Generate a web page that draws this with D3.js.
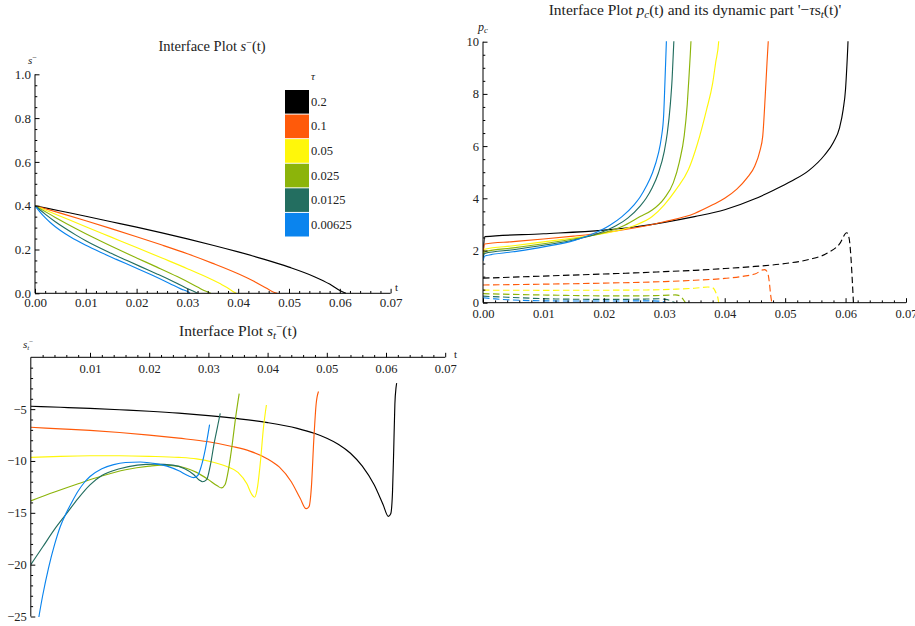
<!DOCTYPE html>
<html><head><meta charset="utf-8">
<script src="https://cdn.jsdelivr.net/npm/d3@7"></script>
<style>
body{margin:0;background:#fff}
svg text{font-family:"Liberation Serif","Times New Roman",serif;fill:#222}
</style></head><body>
<svg id="chart" width="915" height="626"></svg>
<script>
// relaxation parameter tau for each run, and the colour used for it
const tauLabels = ["0.2", "0.1", "0.05", "0.025", "0.0125", "0.00625"];
const tauColors = ["#000000", "#FF5A0A", "#FFF70A", "#8CB40A", "#236E60", "#0A84EE"];

// interface position s^-(t)  [t, s]
const s_tau0200 = [[0,.4],[.005,.376],[.01,.352],[.015,.327],[.02,.302],[.025,.276],[.03,.2485],[.035,.2197],[.04,.1891],[.045,.1562],[.05,.1195],[.055,.076],[.058,.042],[.06,.013],[.0612,0]];
const s_tau0100 = [[0,.4],[.005,.366],[.01,.3311],[.015,.2953],[.02,.2584],[.025,.2202],[.03,.1803],[.035,.1366],[.04,.089],[.043,.056],[.0455,.024],[.047,.005],[.0477,0]];
const s_tau0050 = [[0,.4],[.005,.352],[.01,.304],[.015,.2565],[.02,.209],[.025,.161],[.03,.1125],[.033,.0822],[.035,.0605],[.0365,.0431],[.0378,.0265],[.0388,.011],[.0396,0]];
const s_tau0025 = [[0,.4],[.004,.3466],[.008,.2962],[.012,.2487],[.016,.2041],[.02,.1614],[.024,.1196],[.028,.0763],[.0315,.0347],[.0322,.026],[.0334,.0112],[.0346,0]];
const s_tau0013 = [[0,.4],[.002,.3617],[.004,.3268],[.006,.2955],[.008,.2668],[.01,.2399],[.015,.1825],[.018,.1509],[.021,.1195],[.024,.0885],[.026,.0673],[.029,.0333],[.0303,.0181],[.031,.0115],[.032,0]];
const s_tau0006 = [[0,.4],[.001,.371],[.002,.3455],[.003,.3234],[.004,.304],[.005,.2867],[.007,.2569],[.01,.2194],[.013,.1862],[.016,.155],[.02,.1144],[.023,.0832],[.0265,.045],[.0288,.019],[.0302,.006],[.0305,0]];

// interface velocity s_t^-(t)  [t, s_t]
const st_tau0200 = [[0,-4.72],[.005,-4.82],[.01,-4.93],[.015,-5.06],[.02,-5.2],[.025,-5.38],[.03,-5.62],[.035,-5.92],[.04,-6.3],[.045,-6.85],[.048,-7.35],[.05,-7.8],[.052,-8.4],[.054,-9.25],[.056,-10.5],[.058,-12.3],[.0595,-14.2],[.0604,-15.35],[.0608,-15.1],[.0611,-13],[.0613,-9],[.0615,-4.5],[.0617,-2.9],[.0618,-2.5]];
const st_tau0100 = [[0,-6.75],[.005,-6.9],[.01,-7.05],[.015,-7.25],[.02,-7.5],[.025,-7.8],[.03,-8.15],[.034,-8.6],[.037,-9.05],[.04,-9.8],[.042,-10.6],[.044,-12],[.0455,-13.6],[.0465,-14.6],[.047,-14.4],[.0474,-12.5],[.0478,-8],[.0482,-4.5],[.0486,-3.3]];
const st_tau0050 = [[0,-9.65],[.005,-9.55],[.01,-9.5],[.015,-9.5],[.02,-9.55],[.025,-9.65],[.028,-9.8],[.031,-10.15],[.033,-10.5],[.035,-11.1],[.0365,-12.2],[.0373,-13.2],[.0378,-13.5],[.0383,-12.5],[.0388,-10],[.0393,-6.8],[.0398,-4.6]];
const st_tau0025 = [[0,-13.85],[.004,-13.0],[.008,-12.2],[.012,-11.45],[.016,-10.85],[.02,-10.5],[.022,-10.4],[.024,-10.45],[.026,-10.65],[.028,-11.1],[.03,-11.8],[.0315,-12.4],[.0322,-12.6],[.0328,-12.3],[.0334,-10.8],[.034,-8.5],[.0346,-5.8],[.0352,-3.5]];
const st_tau0013 = [[0,-20],[.002,-18.3],[.004,-16.6],[.006,-15.1],[.008,-13.6],[.01,-12.3],[.012,-11.4],[.015,-10.75],[.018,-10.4],[.021,-10.3],[.024,-10.4],[.026,-10.75],[.0275,-11.3],[.0285,-11.85],[.029,-12],[.0297,-11.8],[.0303,-10.5],[.031,-8.2],[.0315,-6.8],[.032,-5.4]];
const st_tau0006 = [[0,-30],[.001,-26.3],[.002,-23],[.003,-20.3],[.004,-18.1],[.005,-16.3],[.006,-15],[.007,-13.9],[.008,-12.9],[.009,-12.1],[.01,-11.5],[.012,-10.75],[.014,-10.35],[.016,-10.15],[.0185,-10.1],[.021,-10.25],[.023,-10.5],[.025,-10.95],[.0265,-11.4],[.0275,-11.6],[.0282,-11.4],[.0288,-10.5],[.0295,-8.8],[.0302,-6.5]];

// capillary pressure p_c(t)  [t, p_c]
const pc_tau0200 = [[0,1.7],[.0003,2.53],[.01,2.64],[.02,2.78],[.025,2.9],[.03,3.08],[.035,3.3],[.04,3.56],[.045,3.98],[.048,4.3],[.051,4.65],[.054,5.08],[.0565,5.65],[.058,6.15],[.059,6.7],[.0596,7.4],[.06,8.2],[.0602,9.0],[.0604,10],[.0606,11.5]];
const pc_tau0100 = [[0,1.95],[.0003,2.25],[.005,2.34],[.01,2.44],[.015,2.55],[.02,2.68],[.025,2.86],[.03,3.1],[.035,3.42],[.038,3.75],[.04,4.0],[.042,4.35],[.0437,4.78],[.045,5.25],[.0458,5.8],[.0463,6.4],[.0467,7.9],[.047,9.2],[.0472,10],[.0475,11.5]];
const pc_tau0050 = [[0,1.9],[.0003,2.05],[.005,2.18],[.01,2.33],[.015,2.48],[.02,2.65],[.025,2.95],[.028,3.3],[.03,3.75],[.032,4.35],[.034,5.1],[.0355,6.1],[.037,7.4],[.038,8.4],[.0385,9.2],[.039,10],[.0392,10.8]];
const pc_tau0025 = [[0,1.8],[.0003,1.95],[.005,2.1],[.01,2.26],[.015,2.44],[.02,2.68],[.023,2.92],[.026,3.3],[.028,3.55],[.03,4.0],[.0315,4.6],[.0325,5.4],[.0333,6.4],[.0338,7.6],[.0341,8.7],[.0343,9.5],[.0345,10.4]];
const pc_tau0013 = [[0,1.75],[.0003,1.89],[.005,2.03],[.01,2.2],[.015,2.4],[.019,2.65],[.022,2.95],[.024,3.25],[.026,3.7],[.027,4.0],[.028,4.4],[.029,4.95],[.03,5.8],[.0305,6.5],[.031,7.6],[.0313,8.6],[.0315,9.6],[.0317,10.6]];
const pc_tau0006 = [[0,1.6],[.0003,1.79],[.005,1.95],[.01,2.14],[.015,2.38],[.018,2.62],[.021,2.97],[.023,3.3],[.025,3.75],[.026,4.05],[.027,4.45],[.028,4.95],[.029,5.7],[.0295,6.3],[.0299,7.2],[.0301,8.4],[.0303,9.7],[.0305,11]];

// dynamic part -tau*s_t(t)  [t, value]
const dyn_tau0200 = [[0,.94],[.01,1.02],[.02,1.1],[.025,1.14],[.03,1.19],[.035,1.24],[.04,1.31],[.045,1.39],[.05,1.5],[.054,1.66],[.057,1.9],[.059,2.25],[.0602,2.68],[.0606,2.45],[.0609,1.7],[.0611,.9],[.0613,0]];
const dyn_tau0100 = [[0,.68],[.01,.71],[.02,.75],[.03,.81],[.035,.86],[.04,.93],[.043,1.01],[.045,1.1],[.0466,1.27],[.0471,1.15],[.0474,.75],[.0476,.3],[.0478,0]];
const dyn_tau0050 = [[0,.48],[.01,.475],[.02,.478],[.028,.49],[.032,.52],[.035,.555],[.0372,.6],[.0378,.59],[.0383,.5],[.0386,.35],[.0389,.15],[.039,0]];
const dyn_tau0025 = [[0,.345],[.005,.318],[.01,.295],[.015,.275],[.02,.263],[.025,.262],[.028,.27],[.031,.29],[.0318,.3],[.0325,.27],[.033,.17],[.0333,.07],[.0335,0]];
const dyn_tau0013 = [[0,.25],[.004,.21],[.008,.17],[.012,.143],[.018,.13],[.024,.13],[.027,.14],[.029,.15],[.0302,.13],[.031,.08],[.0315,.03],[.0318,0]];
const dyn_tau0006 = [[0,.19],[.002,.145],[.004,.113],[.006,.094],[.01,.072],[.015,.064],[.02,.064],[.025,.068],[.0277,.072],[.029,.062],[.0298,.04],[.0302,0]];

// axis tick labels
const tTicks = [0, 0.01, 0.02, 0.03, 0.04, 0.05, 0.06, 0.07];
const tTicksNoZero = [0.01, 0.02, 0.03, 0.04, 0.05, 0.06, 0.07];
const sTicks = [0, 0.2, 0.4, 0.6, 0.8, 1.0];
const pcTicks = [0, 2, 4, 6, 8, 10];
const stTicks = [-5, -10, -15, -20, -25];

const sSeries = [s_tau0200, s_tau0100, s_tau0050, s_tau0025, s_tau0013, s_tau0006];
const stSeries = [st_tau0200, st_tau0100, st_tau0050, st_tau0025, st_tau0013, st_tau0006];
const pcSeries = [pc_tau0200, pc_tau0100, pc_tau0050, pc_tau0025, pc_tau0013, pc_tau0006];
const dynSeries = [dyn_tau0200, dyn_tau0100, dyn_tau0050, dyn_tau0025, dyn_tau0013, dyn_tau0006];

const SERIF = "Liberation Serif, Times New Roman, serif";
const svg = d3.select("#chart");
const fmt2 = d3.format(".2f"), fmt1 = d3.format(".1f");
const fmtMinus = d => d3.format("d")(d).replace("-", "\u2212");
const tMinors = d3.range(0.002, 0.0705, 0.002).filter(v => Math.abs(v * 100 - Math.round(v * 100)) > 1e-6);

function clip(id, x, y) {
  const [x0, x1] = x.range(), [y0, y1] = y.range();
  svg.append("clipPath").attr("id", id).append("rect")
    .attr("x", Math.min(x0, x1)).attr("y", Math.min(y0, y1) - 0.5)
    .attr("width", Math.abs(x1 - x0) + 2).attr("height", Math.abs(y1 - y0) + 1);
}

function styleAxis(g, fs) {
  g.attr("font-family", SERIF).attr("font-size", fs);
  g.select(".domain").remove();
  g.selectAll("text").attr("fill", "#222").attr("font-family", SERIF).attr("font-size", fs);
}

// horizontal axis at pixel row yPix; ticks point up, labels below
function xAxis(x, yPix, majors, minors, fmt, fs, pad) {
  svg.append("line").attr("x1", x.range()[0]).attr("x2", x.range()[1])
    .attr("y1", yPix).attr("y2", yPix).attr("stroke", "#000").attr("stroke-width", 1);
  svg.append("g").attr("transform", `translate(0,${yPix})`)
    .call(d3.axisBottom(x).tickValues(minors).tickSize(-2.3).tickFormat(""))
    .call(g => styleAxis(g, fs));
  svg.append("g").attr("transform", `translate(0,${yPix})`)
    .call(d3.axisBottom(x).tickValues(majors).tickSize(-4.5).tickPadding(pad).tickFormat(fmt))
    .call(g => styleAxis(g, fs));
}

// vertical axis at pixel column xPix; ticks point right, labels left
function yAxis(y, xPix, majors, minors, fmt, fs) {
  svg.append("line").attr("x1", xPix).attr("x2", xPix)
    .attr("y1", y.range()[0]).attr("y2", y.range()[1]).attr("stroke", "#000").attr("stroke-width", 1);
  svg.append("g").attr("transform", `translate(${xPix},0)`)
    .call(d3.axisLeft(y).tickValues(minors).tickSize(-2.3).tickFormat(""))
    .call(g => styleAxis(g, fs));
  svg.append("g").attr("transform", `translate(${xPix},0)`)
    .call(d3.axisLeft(y).tickValues(majors).tickSize(-4.5).tickPadding(4).tickFormat(fmt))
    .call(g => styleAxis(g, fs));
}

function drawLines(series, x, y, clipId, dash) {
  const line = d3.line().x(d => x(d[0])).y(d => y(d[1])).curve(d3.curveMonotoneX);
  svg.append("g").attr("clip-path", `url(#${clipId})`)
    .selectAll("path").data(series).join("path")
    .attr("d", line).attr("fill", "none")
    .attr("stroke", (d, i) => tauColors[i]).attr("stroke-width", 1.15)
    .attr("stroke-dasharray", dash || null);
}

// ---------- panel: s^-(t) ----------
const xA = d3.scaleLinear().domain([0, 0.07]).range([35, 390.6]);
const yA = d3.scaleLinear().domain([0, 1]).range([293.3, 74.3]);
clip("clipA", xA, yA);
drawLines(sSeries, xA, yA, "clipA");
xAxis(xA, yA(0), tTicks, tMinors, fmt2, 13, 4);
yAxis(yA, xA(0), sTicks, d3.range(0.05, 1.0, 0.05).filter(v => Math.abs(v * 5 - Math.round(v * 5)) > 1e-6), fmt1, 13);

const titleA = svg.append("text").attr("x", 212).attr("y", 51).attr("text-anchor", "middle").attr("font-size", 14.5);
titleA.append("tspan").text("Interface Plot ");
titleA.append("tspan").attr("font-style", "italic").text("s");
titleA.append("tspan").attr("dy", -5).attr("font-size", 10).text("\u2212");
titleA.append("tspan").attr("dy", 5).text("(t)");

const labA = svg.append("text").attr("x", 28).attr("y", 64).attr("font-size", 11);
labA.append("tspan").attr("font-style", "italic").text("s");
labA.append("tspan").attr("dy", -4).attr("font-size", 8).text("\u2212");
svg.append("text").attr("x", 395).attr("y", 291).attr("font-size", 11).text("t");

// legend for tau
const band = d3.scaleBand().domain(tauLabels).range([90, 236.5]).paddingInner(0.04);
svg.append("text").attr("x", 311).attr("y", 80).attr("font-size", 11).attr("font-style", "italic").text("\u03C4");
const leg = svg.append("g").selectAll("g").data(tauLabels).join("g");
leg.append("rect").attr("x", 285).attr("width", 24).attr("y", d => band(d)).attr("height", band.bandwidth())
  .attr("fill", (d, i) => tauColors[i]);
leg.append("text").attr("x", 311).attr("y", d => band(d) + band.bandwidth() / 2 + 4)
  .attr("font-size", 12.5).text(d => d);

// ---------- panel: p_c(t) and -tau s_t(t) ----------
const xB = d3.scaleLinear().domain([0, 0.07]).range([483, 906]);
const yB = d3.scaleLinear().domain([0, 10]).range([302.7, 41.7]);
clip("clipB", xB, yB);
drawLines(pcSeries, xB, yB, "clipB");
drawLines(dynSeries, xB, yB, "clipB", "6.5,3.5");
xAxis(xB, yB(0), tTicks, tMinors, fmt2, 12.5, 6);
yAxis(yB, xB(0), pcTicks, d3.range(0.5, 10, 0.5).filter(v => v % 2 !== 0), d3.format("d"), 12.5);

const titleB = svg.append("text").attr("x", 695).attr("y", 15).attr("text-anchor", "middle").attr("font-size", 15.5);
titleB.append("tspan").text("Interface Plot ");
titleB.append("tspan").attr("font-style", "italic").text("p");
titleB.append("tspan").attr("font-style", "italic").attr("dy", 3).attr("font-size", 11).text("c");
titleB.append("tspan").attr("dy", -3).text("(t) and its dynamic part '\u2212");
titleB.append("tspan").attr("font-style", "italic").text("\u03C4");
titleB.append("tspan").text("s");
titleB.append("tspan").attr("font-style", "italic").attr("dy", 3).attr("font-size", 11).text("t");
titleB.append("tspan").attr("dy", -3).text("(t)'");

const labB = svg.append("text").attr("x", 478).attr("y", 31).attr("font-size", 12);
labB.append("tspan").attr("font-style", "italic").text("p");
labB.append("tspan").attr("font-style", "italic").attr("dy", 2).attr("font-size", 8.5).text("c");

// ---------- panel: s_t^-(t) ----------
const xC = d3.scaleLinear().domain([0, 0.07]).range([30.8, 445.2]);
const yC = d3.scaleLinear().domain([-25, 0]).range([616.5, 357.3]);
clip("clipC", xC, yC);
drawLines(stSeries, xC, yC, "clipC");
xAxis(xC, yC(0), tTicksNoZero, tMinors, fmt2, 12.5, 7);
yAxis(yC, xC(0), stTicks, d3.range(-1, -25, -1).filter(v => v % 5 !== 0), fmtMinus, 12.5);

const titleC = svg.append("text").attr("x", 238).attr("y", 336).attr("text-anchor", "middle").attr("font-size", 15.5);
titleC.append("tspan").text("Interface Plot ");
titleC.append("tspan").attr("font-style", "italic").text("s");
titleC.append("tspan").attr("font-style", "italic").attr("dy", 3).attr("font-size", 11).text("t");
titleC.append("tspan").attr("dy", -9).attr("font-size", 11).text("\u2212");
titleC.append("tspan").attr("dy", 6).text("(t)");

const labC = svg.append("text").attr("x", 23).attr("y", 348).attr("font-size", 11);
labC.append("tspan").attr("font-style", "italic").text("s");
labC.append("tspan").attr("font-style", "italic").attr("dy", 2).attr("font-size", 7).text("t");
labC.append("tspan").attr("dy", -6).attr("font-size", 7).text("\u2212");
svg.append("text").attr("x", 454).attr("y", 358).attr("font-size", 11).text("t");
</script></body></html>
